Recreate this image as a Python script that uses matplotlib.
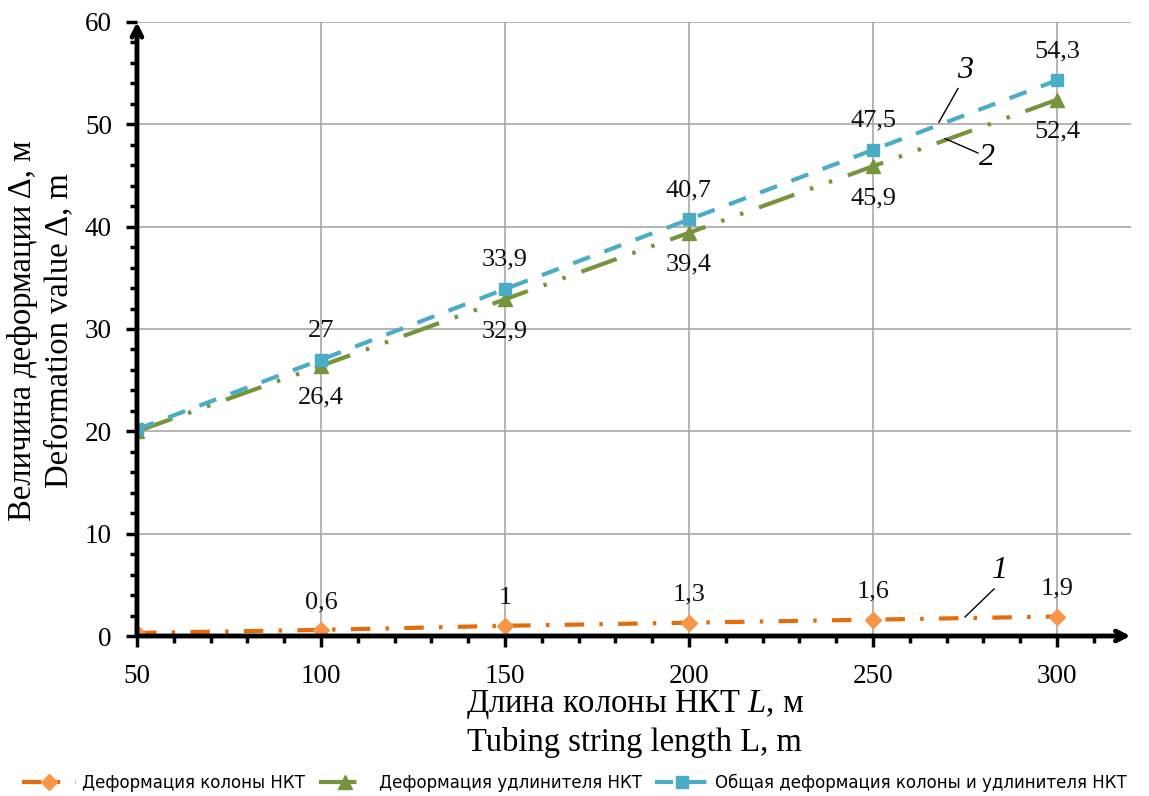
import numpy as np
import matplotlib
matplotlib.use('Agg')
import matplotlib.pyplot as plt
from matplotlib.ticker import MultipleLocator, FixedLocator

# data
length = [50, 100, 150, 200, 250, 300]
tubing_def = [0.3, 0.6, 1.0, 1.3, 1.6, 1.9]
extender_def = [20.0, 26.4, 32.9, 39.4, 45.9, 52.4]
total_def = [20.2, 27.0, 33.9, 40.7, 47.5, 54.3]

tubing_lbl = ['', '0,6', '1', '1,3', '1,6', '1,9']
extender_lbl = ['', '26,4', '32,9', '39,4', '45,9', '52,4']
total_lbl = ['', '27', '33,9', '40,7', '47,5', '54,3']

legend_names = ['Деформация колоны НКТ',
                'Деформация удлинителя НКТ',
                'Общая деформация колоны и удлинителя НКТ']

serif = ['Liberation Serif', 'DejaVu Serif']
narrow = ['Liberation Sans Narrow', 'DejaVu Sans']

plt.rcParams['lines.scale_dashes'] = False
plt.rcParams['font.family'] = serif
plt.rcParams['mathtext.fontset'] = 'custom'
plt.rcParams['mathtext.rm'] = 'Liberation Serif'
plt.rcParams['mathtext.it'] = 'Liberation Serif:italic'

fig = plt.figure(figsize=(11.49, 7.96), dpi=100)
ax = fig.add_axes([0.1192, 0.2010, 0.8648, 0.7714])

ax.set_xlim(50, 320)
ax.set_ylim(0, 60)

# grid
for gx in range(100, 301, 50):
    ax.axvline(gx, color='#a0a0a0', lw=1.1, zorder=0)
for gy in range(10, 61, 10):
    ax.axhline(gy, color='#a0a0a0', lw=1.1, zorder=0)

l1, = ax.plot(length, tubing_def, color='#e46c0a', lw=3,
              dashes=(14, 11, 2.5, 11), marker='D', ms=8,
              mfc='#f79646', mec='#f79646', zorder=3)
l2, = ax.plot(length, extender_def, color='#77933c', lw=3,
              dashes=(27, 12, 2.5, 12, 2.5, 12), marker='^', ms=10,
              mfc='#77933c', mec='#77933c', zorder=3)
l3, = ax.plot(length, total_def, color='#4bacc6', lw=3,
              dashes=(13, 11), marker='s', ms=8,
              mfc='#4bacc6', mec='#4bacc6', zorder=4)

# data labels
for x, y, t in zip(length, tubing_def, tubing_lbl):
    if t:
        ax.annotate(t, (x, y), xytext=(0, 20), textcoords='offset points',
                    ha='center', va='center', fontsize=19, color='#111111')
for x, y, t in zip(length, extender_def, extender_lbl):
    if t:
        ax.annotate(t, (x, y), xytext=(0, -23), textcoords='offset points',
                    ha='center', va='center', fontsize=19, color='#111111')
for x, y, t in zip(length, total_def, total_lbl):
    if t:
        ax.annotate(t, (x, y), xytext=(0, 21), textcoords='offset points',
                    ha='center', va='center', fontsize=19, color='#111111')

# curve numbers with leader lines
ax.plot([273.1, 267.9], [53.5, 50.2], color='black', lw=1, zorder=5)
ax.text(275.0, 55.3, '3', fontsize=23, style='italic', ha='center', va='center')
ax.plot([269.6, 278.5], [48.6, 47.2], color='black', lw=1, zorder=5)
ax.text(281.0, 46.8, '2', fontsize=23, style='italic', ha='center', va='center')
ax.plot([282.9, 275.0], [4.6, 1.86], color='black', lw=1, zorder=5)
ax.text(284.5, 6.4, '1', fontsize=23, style='italic', ha='center', va='center')

# axes with arrows
for s in ax.spines.values():
    s.set_visible(False)
ax.annotate('', xy=(1.0, 0), xytext=(0, 0), xycoords='axes fraction',
            arrowprops=dict(arrowstyle='->,head_length=0.7,head_width=0.35',
                            color='black', lw=3.5, shrinkA=0, shrinkB=0),
            zorder=5)
ax.annotate('', xy=(0, 1.0), xytext=(0, 0), xycoords='axes fraction',
            arrowprops=dict(arrowstyle='->,head_length=0.7,head_width=0.35',
                            color='black', lw=3.5, shrinkA=0, shrinkB=0),
            zorder=5)

ax.set_xticks(range(50, 301, 50))
ax.xaxis.set_minor_locator(FixedLocator(range(60, 311, 10)))
ax.yaxis.set_major_locator(MultipleLocator(10))
ax.yaxis.set_minor_locator(MultipleLocator(2))
ax.tick_params(axis='both', which='major', direction='out', length=8,
               width=2.5, labelsize=19.5, colors='black', pad=6)
ax.tick_params(axis='both', which='minor', direction='out', length=5,
               width=2.5, colors='black')
ax.tick_params(axis='y', which='major', pad=10)
ax.tick_params(axis='x', which='major', pad=12)

fig.text(0.5525, 0.115, 'Длина колоны НКТ $\\mathit{L}$, м', ha='center',
         va='center', fontsize=23.5)
fig.text(0.5525, 0.067, 'Tubing string length L, m', ha='center',
         va='center', fontsize=23.5)
fig.text(0.020, 0.585, 'Величина деформации Δ, м', rotation=90,
         ha='center', va='center', fontsize=23.5)
fig.text(0.051, 0.585, 'Deformation value Δ, m', rotation=90,
         ha='center', va='center', fontsize=23.5)

fig.legend([l1, l2, l3], legend_names, loc='center', ncol=3,
           bbox_to_anchor=(0.5, 0.017), frameon=False,
           prop={'family': narrow, 'size': 12}, handlelength=3.2,
           columnspacing=0.8, handletextpad=0.4)

fig.savefig('out.png', dpi=100)
